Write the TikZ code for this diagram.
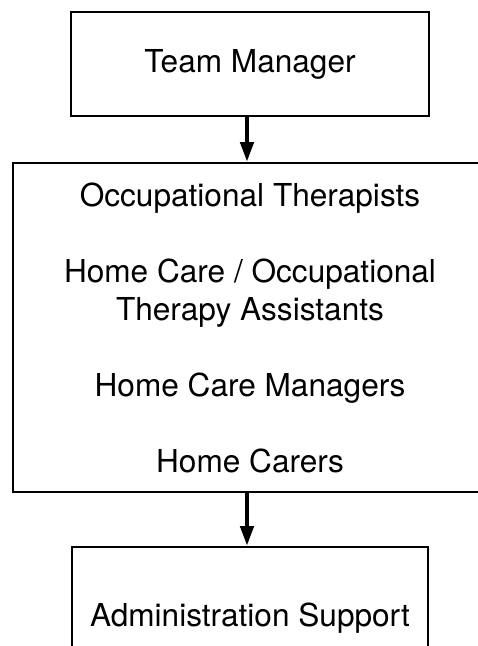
\documentclass[tikz,border=0pt]{standalone}
\usepackage{fontspec}
\setmainfont{TeX Gyre Heros}
\usetikzlibrary{arrows.meta}
\begin{document}
\begin{tikzpicture}[x=1pt,y=-1pt,
  box/.style={draw,line width=2pt,align=center,
    font=\fontsize{31.6}{38}\selectfont},
  flow/.style={line width=4.5pt,-{Triangle[width=13pt,length=20pt]}}]
\useasboundingbox (0,0) rectangle (478,646);
\clip (0,0) rectangle (478,646);
\node[box,minimum width=358pt,minimum height=104pt] (manager) at (250,64) {Team Manager};
\node[box,minimum width=474pt,minimum height=329pt] (staff) at (250,327.5)
  {Occupational Therapists\\[38pt]
   Home Care / Occupational\\ Therapy Assistants\\[38pt]
   Home Care Managers\\[38pt]
   Home Carers};
\node[box,minimum width=356pt,minimum height=142pt] (admin) at (250,618) {Administration Support};
\draw[flow] ([xshift=-3pt]manager.south) -- ([xshift=-3pt]staff.north);
\draw[flow] ([xshift=-3pt]staff.south) -- ([xshift=-3pt]admin.north);
\end{tikzpicture}
\end{document}
